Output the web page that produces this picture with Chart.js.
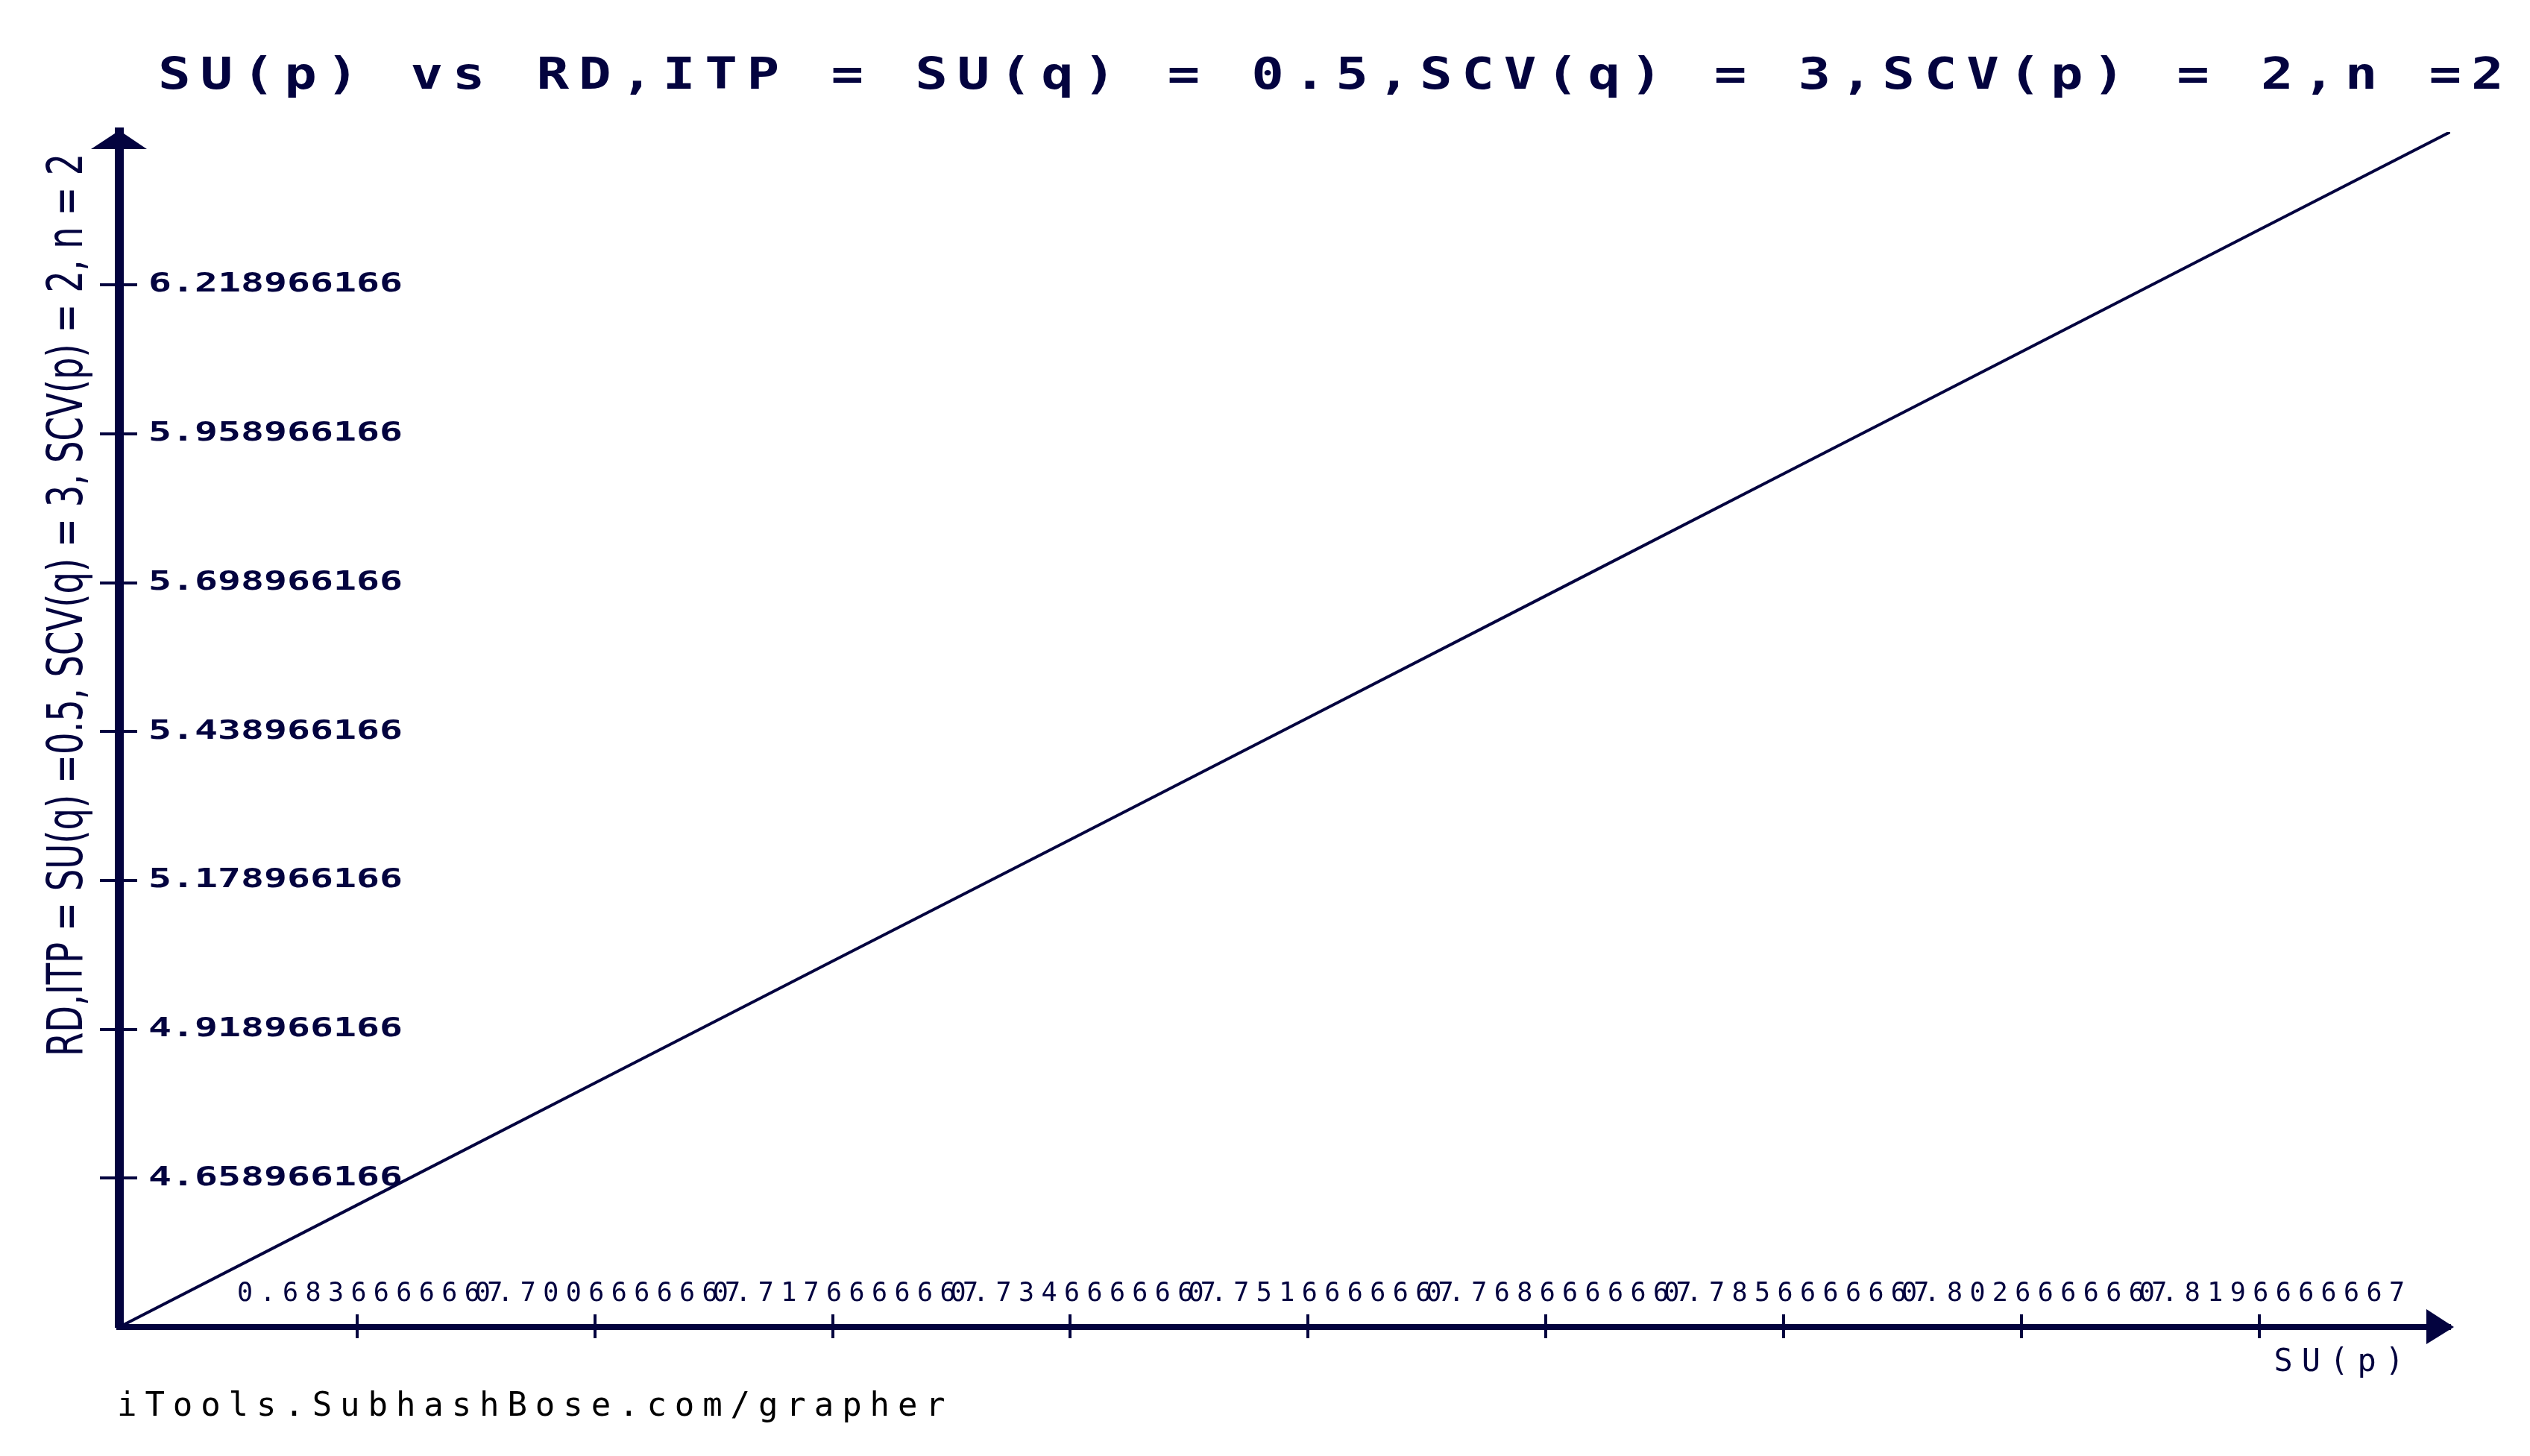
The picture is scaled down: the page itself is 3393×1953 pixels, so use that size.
<!DOCTYPE html>
<html>
  <head>
    <title>SU(p) vs RD,ITP</title>
    <style>
      body { margin: 0; background: #fff; }
    </style>
  </head>
  <body>
    <canvas id="grapher" width="3393" height="1953"></canvas>

    <script src="https://cdn.jsdelivr.net/npm/chart.js"></script>
    <script>
      const navy = "#03033f";

      // values
      const suP = [
        0.6666666667, 0.6836666667, 0.7006666667, 0.7176666667, 0.7346666667,
        0.7516666667, 0.7686666667, 0.7856666667, 0.8026666667, 0.8196666667,
        0.8333333333,
      ];
      const rdItp = [
        4.399, 4.612, 4.825, 5.038, 5.25, 5.463, 5.676, 5.889, 6.102, 6.315,
        6.486,
      ];

      const xRange = [0.6666666667, 0.8333333333];
      const yRange = [4.398966166, 6.486];

      const xTicks = [
        0.6836666667, 0.7006666667, 0.7176666667, 0.7346666667, 0.7516666667,
        0.7686666667, 0.7856666667, 0.8026666667, 0.8196666667,
      ];
      const xTickLabels = [
        "0.6836666667", "0.7006666667", "0.7176666667", "0.7346666667",
        "0.7516666667", "0.7686666667", "0.7856666667", "0.8026666667",
        "0.8196666667",
      ];
      const yTicks = [
        4.658966166, 4.918966166, 5.178966166, 5.438966166, 5.698966166,
        5.958966166, 6.218966166,
      ];
      const yTickLabels = [
        "4.658966166", "4.918966166", "5.178966166", "5.438966166",
        "5.698966166", "5.958966166", "6.218966166",
      ];

      const titleText =
        "SU(p) vs RD,ITP = SU(q) = 0.5,SCV(q) = 3,SCV(p) = 2,n =2";
      const yTitle = "RD,ITP = SU(q) =0.5, SCV(q) = 3, SCV(p) = 2, n = 2";
      const xTitle = "SU(p)";
      const footer = "iTools.SubhashBose.com/grapher";

      const mono = "'DejaVu Sans Mono', monospace";
      const sans = "'DejaVu Sans', sans-serif";

      // wrap a draw method so the text gets the grapher's wide / spaced look
      function restyle(obj, method, prep) {
        if (!obj || obj["_re_" + method]) return;
        const orig = obj[method];
        obj[method] = function (...args) {
          const ctx = this.ctx;
          ctx.save();
          prep(ctx, this);
          orig.apply(this, args);
          ctx.restore();
        };
        obj["_re_" + method] = true;
      }

      const textStyle = {
        id: "textStyle",
        beforeDraw(chart) {
          const { x, y } = chart.scales;
          restyle(chart.titleBlock, "draw", (ctx) => {
            ctx.translate(212, 0);
            ctx.scale(1.25, 1);
            ctx.letterSpacing = "10.2px";
          });
          const sub = chart.boxes.find(
            (b) => b.options && b.options.text === footer
          );
          restyle(sub, "draw", (ctx) => {
            ctx.translate(157, 0);
            ctx.letterSpacing = "10.9px";
          });
          // x labels sit above the axis line, so don't clip them to the scale box
          x._computeLabelArea = () => null;
          restyle(x, "drawLabels", (ctx) => {
            ctx.letterSpacing = "9.4px";
          });
          restyle(x, "drawTitle", (ctx) => {
            ctx.translate(-50, 0);
            ctx.letterSpacing = "12px";
          });
          restyle(y, "drawLabels", (ctx, s) => {
            const ax = s.right + s.options.ticks.padding;
            ctx.translate(ax, 0);
            ctx.scale(1.43, 1);
            ctx.translate(-ax, 0);
          });
          restyle(y, "drawTitle", (ctx, s) => {
            // squeeze the rotated title along its length (condensed font)
            ctx.font = "66px " + sans;
            const w = ctx.measureText(yTitle).width;
            ctx.translate(0, 206);
            ctx.scale(1, 1211 / w);
            ctx.translate(0, -s.top);
          });
        },
      };

      // tick marks that cross the axes, and the two arrow heads
      const axisMarks = {
        id: "axisMarks",
        afterDraw(chart) {
          const { ctx, chartArea: a } = chart;
          const { x, y } = chart.scales;
          ctx.save();
          ctx.strokeStyle = navy;
          ctx.fillStyle = navy;
          ctx.lineWidth = 4;
          x.ticks.forEach((t) => {
            const px = Math.round(x.getPixelForValue(t.value));
            ctx.beginPath();
            ctx.moveTo(px, a.bottom - 17);
            ctx.lineTo(px, a.bottom + 15);
            ctx.stroke();
          });
          y.ticks.forEach((t) => {
            const py = Math.round(y.getPixelForValue(t.value));
            ctx.beginPath();
            ctx.moveTo(a.left - 26, py);
            ctx.lineTo(a.left + 24, py);
            ctx.stroke();
          });
          ctx.beginPath();
          ctx.moveTo(a.left, a.top - 2);
          ctx.lineTo(a.left - 38, a.top + 23);
          ctx.lineTo(a.left + 37, a.top + 23);
          ctx.closePath();
          ctx.fill();
          ctx.beginPath();
          ctx.moveTo(a.right + 5, a.bottom);
          ctx.lineTo(a.right - 32, a.bottom - 24);
          ctx.lineTo(a.right - 32, a.bottom + 23);
          ctx.closePath();
          ctx.fill();
          ctx.restore();
        },
      };

      new Chart(document.getElementById("grapher"), {
        type: "line",
        data: {
          datasets: [
            {
              data: suP.map((v, i) => ({ x: v, y: rdItp[i] })),
              borderColor: navy,
              borderWidth: 4,
              pointRadius: 0,
              fill: false,
              tension: 0,
            },
          ],
        },
        options: {
          responsive: false,
          animation: false,
          devicePixelRatio: 1,
          layout: { padding: { left: 0, right: 107, top: 0, bottom: 0 } },
          plugins: {
            legend: { display: false },
            tooltip: { enabled: false },
            title: {
              display: true,
              text: titleText,
              align: "start",
              color: navy,
              font: { family: mono, size: 58, weight: "bold", lineHeight: 1 },
              padding: { top: 75, bottom: 44 },
            },
            subtitle: {
              display: true,
              text: footer,
              position: "bottom",
              align: "start",
              color: "#000",
              font: { family: mono, size: 44, weight: "normal", lineHeight: 1 },
              padding: { top: 16, bottom: 43 },
            },
          },
          scales: {
            x: {
              type: "linear",
              min: xRange[0],
              max: xRange[1],
              afterBuildTicks: (s) => {
                s.ticks = xTicks.map((v) => ({ value: v }));
              },
              afterFit: (s) => {
                s.height = 70;
              },
              grid: { display: false, drawTicks: false },
              border: { color: navy, width: 8 },
              ticks: {
                autoSkip: false,
                maxRotation: 0,
                minRotation: 0,
                padding: -62,
                labelOffset: 22,
                color: navy,
                font: { family: mono, size: 35, lineHeight: 1 },
                callback: (v, i) => xTickLabels[i],
              },
              title: {
                display: true,
                text: xTitle,
                align: "end",
                color: navy,
                font: { family: mono, size: 42, lineHeight: 1 },
                padding: { top: 0, bottom: 1 },
              },
            },
            y: {
              type: "linear",
              min: yRange[0],
              max: yRange[1],
              afterBuildTicks: (s) => {
                s.ticks = yTicks.map((v) => ({ value: v }));
              },
              afterFit: (s) => {
                s.width = 160;
              },
              grid: { display: false, drawTicks: false },
              border: { color: navy, width: 12 },
              ticks: {
                mirror: true,
                padding: 39,
                color: navy,
                font: { family: mono, size: 36, weight: "bold", lineHeight: 1 },
                callback: (v, i) => yTickLabels[i],
              },
              title: {
                display: true,
                text: yTitle,
                align: "end",
                color: navy,
                font: { family: sans, size: 66, lineHeight: 1 },
                padding: { top: 60, bottom: 0 },
              },
            },
          },
        },
        plugins: [textStyle, axisMarks],
      });
    </script>
  </body>
</html>
